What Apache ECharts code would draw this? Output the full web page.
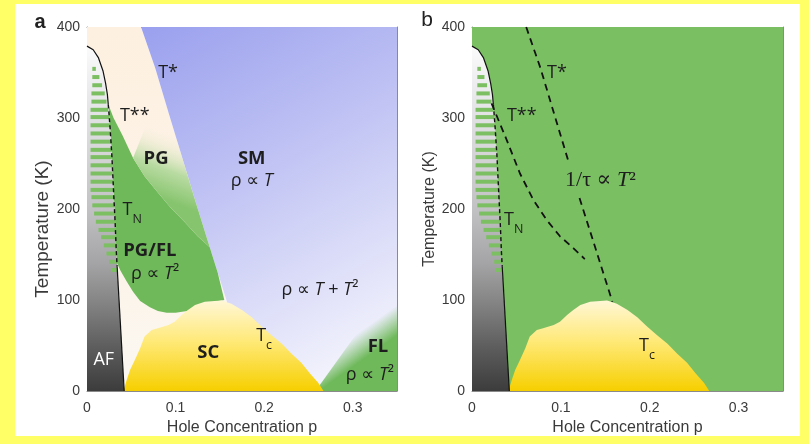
<!DOCTYPE html>
<html><head><meta charset="utf-8">
<script src="https://cdn.jsdelivr.net/npm/echarts@6/dist/echarts.min.js"></script>
<style>
html,body{margin:0;padding:0;background:#FFFF66;width:809px;height:444px;overflow:hidden}
#c{position:absolute;left:15px;top:4px;width:785px;height:432px;background:#fff}
</style></head><body><div id="c"></div>
<script>
// ---------- axes ----------
const pRange = [0, 0.35], pStep = 0.1;
const tRange = [0, 400], tStep = 100;
const xName = 'Hole Concentration p';
const yName = 'Temperature (K)';

// ---------- phase boundaries [p, T] ----------
const afArc  = [[0,379],[0.007,375],[0.013,366],[0.018,352],[0.021,338],[0.023,326],[0.024,315]];
const tnLine = [[0.024,315],[0.026,290],[0.028,260],[0.030,220],[0.032,180],[0.033,155],[0.034,137]];
const afLine = [[0.034,137],[0.042,0]];
const scDome = [[0.041,0],[0.0448,12],[0.0486,23],[0.054,34],[0.060,47],[0.065,60],[0.073,67],[0.080,69],
                [0.092,72.5],[0.099,76],[0.107,83.5],[0.114,89],[0.122,94.5],[0.133,98],[0.152,99.5],
                [0.163,96],[0.175,89],[0.186,81],[0.197,71],[0.208,61.5],[0.220,52],[0.231,41],
                [0.242,31],[0.252,19],[0.261,9],[0.267,0]];
const tStar      = [[0.061,400],[0.077,355],[0.092,306],[0.107,258],[0.122,210],[0.136,166],[0.158,98]];
const tStarUpper = [[0.061,400],[0.077,355],[0.092,306],[0.108,254]];
const tStarLower = [[0.121,212],[0.136,166],[0.158,98]];
const tStar2     = [[0.022,316],[0.039,276],[0.054,239],[0.069,210],[0.084,188],[0.099,170],[0.114,157],[0.127,145]];
const pgflOutline = [[0.024,315],[0.030,300],[0.040,281],[0.052,256],[0.065,236],[0.080,218],[0.094,202],
                [0.110,186],[0.125,170],[0.1386,158],[0.1476,130],[0.155,100],[0.140,97.5],[0.128,94],
                [0.113,88],[0.100,86],[0.090,86],[0.080,88],[0.071,92],[0.060,99],[0.052,109],[0.045,120],
                [0.038,132],[0.034,140],[0.033,155],[0.032,180],[0.030,220],[0.028,260],[0.026,290]];
const pgWedge = [[0.052,256],[0.065,236],[0.080,218],[0.094,202],[0.110,186],[0.125,170],[0.1386,158],
                 [0.136,166],[0.122,210],[0.107,258],[0.092,306],[0.070,300]];
const flRegion = [[0.258,0],[0.35,0],[0.35,125]];
// hatch stripes in AF region: [T, pLeft, pRight]
const afStripes = [[354,0.006,0.010],[345,0.006,0.014],[336,0.006,0.017],[327,0.005,0.020],[318,0.005,0.022],
  [309,0.004,0.024],[301,0.004,0.025],[292,0.004,0.026],[283,0.004,0.027],[274,0.004,0.027],[265,0.004,0.028],
  [257,0.004,0.028],[248,0.004,0.029],[239,0.004,0.029],[230,0.004,0.030],[221,0.004,0.030],[213,0.005,0.031],
  [204,0.006,0.031],[195,0.008,0.032],[186,0.010,0.032],[177,0.013,0.033],[169,0.016,0.033],[160,0.019,0.034],
  [151,0.022,0.034],[142,0.025,0.034],[133,0.027,0.034]];

// ---------- text labels [p, T, rich text] ----------
const labelsA = [
  [0.0915,347,'{r|T*}'],
  [0.054,300,'{r|T**}'],
  [0.078,254,'{b|PG}'],
  [0.186,254,'{b|SM}'],
  [0.186,229,'{r|ρ ∝ }{i|T}'],
  [0.051,197,'{r|T}{s|N}'],
  [0.071,152,'{b|PG/FL}'],
  [0.077,127,'{r|ρ ∝ }{i|T}{r|²}'],
  [0.263,109,'{r|ρ ∝ }{i|T}{r| + }{i|T}{r|²}'],
  [0.200,58,'{r|T}{s|c}'],
  [0.137,40,'{b|SC}'],
  [0.019,32,'{w|AF}'],
  [0.3285,47,'{b|FL}'],
  [0.3195,15,'{r|ρ ∝ }{i|T}{r|²}']
];
const labelsB = [
  [0.0956,347,'{r|T*}'],
  [0.056,300,'{r|T**}'],
  [0.1445,230,'{sr|1/τ ∝ }{si|T}{sr|²}'],
  [0.047,186,'{r|T}{s|N}'],
  [0.197,47,'{r|T}{s|c}']
];

// ---------- helpers ----------
const FF = "'Open Sans','DejaVu Sans',sans-serif";
const SF = "'Liberation Serif','DejaVu Serif',serif";
const TXT = '#1e1e1e';
const RICH = {
  r:{fontFamily:FF,fontSize:18,fill:TXT,verticalAlign:'top',lineHeight:22},
  b:{fontFamily:FF,fontSize:18.5,fontWeight:'bold',fill:TXT,verticalAlign:'top',lineHeight:22},
  i:{fontFamily:FF,fontSize:18,fontStyle:'italic',fill:TXT,verticalAlign:'top',lineHeight:22},
  s:{fontFamily:FF,fontSize:12.5,fill:TXT,verticalAlign:'top',lineHeight:12,padding:[12,0,0,0]},
  w:{fontFamily:FF,fontSize:18,fill:'#ffffff',verticalAlign:'top',lineHeight:22},
  sr:{fontFamily:SF,fontSize:22,fill:TXT,verticalAlign:'top',lineHeight:25},
  si:{fontFamily:SF,fontSize:22,fontStyle:'italic',fill:TXT,verticalAlign:'top',lineHeight:25}
};
const LG = (x,y,x2,y2,stops)=>new echarts.graphic.LinearGradient(x,y,x2,y2,stops.map(s=>({offset:s[0],color:s[1]})));

function poly(ax, pts, fill, z){
  return {type:'custom', xAxisIndex:ax, yAxisIndex:ax, z, silent:true, clip:true, animation:false,
    data:pts, encode:{x:0,y:1},
    renderItem(params, api){
      if (params.dataIndex !== 0) return null;
      return {type:'polygon', shape:{points:pts.map(d=>api.coord(d))}, style:{fill}};
    }};
}
function line(ax, pts, type, width, z){
  return {type:'line', xAxisIndex:ax, yAxisIndex:ax, data:pts, symbol:'none', silent:true, z,
    animation:false, lineStyle:{color:'#111', width, type}};
}
function stripes(ax, color, z){
  return {type:'custom', xAxisIndex:ax, yAxisIndex:ax, z, silent:true, clip:true, animation:false,
    data:afStripes, encode:{x:[1,2], y:0},
    renderItem(params, api){
      const a = api.coord([api.value(1), api.value(0)]);
      const b = api.coord([api.value(2), api.value(0)]);
      return {type:'rect', shape:{x:a[0], y:a[1]-2, width:b[0]-a[0], height:4}, style:{fill:color}};
    }};
}
function labels(ax, arr, z){
  return {type:'custom', xAxisIndex:ax, yAxisIndex:ax, z, silent:true, animation:false,
    data:arr.map(d=>[d[0],d[1]]), encode:{x:0,y:1},
    renderItem(params, api){
      const d = arr[params.dataIndex];
      const c = api.coord([d[0], d[1]]);
      return {type:'text', x:c[0], y:c[1], style:{text:d[2], rich:RICH, align:'center', verticalAlign:'middle'}};
    }};
}
const AXC = '#8a8a8a';
function xAx(g, pos){
  const bottom = pos === 'bottom';
  return {type:'value', gridIndex:g, min:pRange[0], max:pRange[1], interval:pStep, position:pos,
    axisLine:{show:true, onZero:false, lineStyle:{color:AXC, width:1}},
    axisTick:{show:true, inside:true, length:4, lineStyle:{color:AXC}},
    axisLabel:{show:bottom, margin:10, color:'#3a3a3a', fontSize:14, fontFamily:'Liberation Sans, Arial',
      showMaxLabel:false, formatter:v=> v===0 ? '0' : v.toFixed(1)},
    splitLine:{show:false},
    name: bottom ? xName : '', nameLocation:'middle', nameGap:26,
    nameTextStyle:{color:'#3a3a3a', fontSize:16, fontFamily:'Liberation Sans, Arial'}};
}
function yAx(g, pos, nameSize, namePad){
  const left = pos === 'left';
  return {type:'value', gridIndex:g, min:tRange[0], max:tRange[1], interval:tStep, position:pos,
    axisLine:{show:true, onZero:false, lineStyle:{color:AXC, width:1}},
    axisTick:{show:true, inside:true, length:4, lineStyle:{color:AXC}},
    axisLabel:{show:left, margin:7, color:'#3a3a3a', fontSize:14, fontFamily:'Liberation Sans, Arial'},
    splitLine:{show:false},
    name: left ? yName : '', nameLocation:'middle', nameGap:34,
    nameTextStyle:{color:'#3a3a3a', fontSize:nameSize||16, fontFamily:'Liberation Sans, Arial', padding:namePad||0}};
}

// ---------- fills ----------
const GREEN_A = '#6FB95B', GREEN_B = '#7BBF63', STRIPE = '#7CBF62';
const afFill = ()=>LG(0,0,0,1,[[0,'#fbfbfc'],[0.2,'#e2e2e5'],[0.47,'#c2c2c5'],[0.63,'#a4a4a6'],[0.74,'#858585'],[0.87,'#5e5e5e'],[1,'#3c3c3c']]);
const scFill = ()=>LG(0,0,0,1,[[0,'#FFF7D6'],[0.45,'#FFE978'],[1,'#F6CF00']]);
const afPoly = [[0,0]].concat(afLine.slice().reverse(), tnLine.slice().reverse().slice(1), afArc.slice().reverse().slice(1));
const creamPoly = [[0,400]].concat(tStar, [[0.158,0],[0,0]]);
const bluePoly = tStar.concat([[0.158,0],[0.35,0],[0.35,400]]);
const fullPoly = [[0,0],[0.35,0],[0.35,400],[0,400]];

const series = [
  // panel a
  poly(0, creamPoly, LG(0,0,0,1,[[0,'#FDF0E0'],[0.6,'#FCF3E8'],[1,'#FBF8F2']]), 1),
  poly(0, bluePoly, LG(0,0,0.8,1,[[0,'#9AA0EE'],[0.4,'#BDC0F3'],[1,'#F7F7FD']]), 2),
  poly(0, flRegion, LG(0.5,0.5,1,1,[[0,'rgba(111,185,91,0)'],[0.35,GREEN_A],[1,GREEN_A]]), 3),
  poly(0, pgflOutline, GREEN_A, 4),
  poly(0, pgWedge, LG(0.5,0.669,0.798,0.219,[[0,'#86C46D'],[0.45,'#B9DBA2'],[1,'rgba(253,240,224,0)']]), 5),
  poly(0, scDome, scFill(), 6),
  poly(0, afPoly, afFill(), 7),
  stripes(0, STRIPE, 8),
  line(0, afArc, 'solid', 1.2, 9),
  line(0, tnLine, [4,3], 1.4, 9),
  line(0, afLine, 'solid', 1.2, 9),
  labels(0, labelsA, 10),
  // panel b
  poly(1, fullPoly, GREEN_B, 1),
  poly(1, scDome, scFill(), 6),
  poly(1, afPoly, afFill(), 7),
  stripes(1, STRIPE, 8),
  line(1, afArc, 'solid', 1.2, 9),
  line(1, tnLine, [4,3], 1.4, 9),
  line(1, afLine, 'solid', 1.2, 9),
  line(1, tStarUpper, [7,5], 1.8, 9),
  line(1, tStarLower, [7,5], 1.8, 9),
  line(1, tStar2, [7,5], 1.8, 9),
  labels(1, labelsB, 10)
];

const chart = echarts.init(document.getElementById('c'), null, {renderer:'canvas'});
chart.setOption({
  animation:false,
  backgroundColor:'#ffffff',
  grid:[{left:72, top:23, width:310, height:364, outerBoundsMode:'none', containLabel:false},
        {left:457, top:23, width:311, height:364, outerBoundsMode:'none', containLabel:false}],
  xAxis:[xAx(0,'bottom'), xAx(1,'bottom'), xAx(0,'top'), xAx(1,'top')],
  yAxis:[yAx(0,'left',19,[0,40,0,0]), yAx(1,'left',16,0), yAx(0,'right'), yAx(1,'right')],
  graphic:[
    {type:'text', x:25, y:18, style:{text:'a', font:'bold 20px "Liberation Sans", Arial', fill:'#222', align:'center', verticalAlign:'middle'}},
    {type:'text', x:412, y:16, style:{text:'b', font:'21px "Liberation Sans", Arial', fill:'#222', align:'center', verticalAlign:'middle'}}
  ],
  series
});
</script></body></html>
